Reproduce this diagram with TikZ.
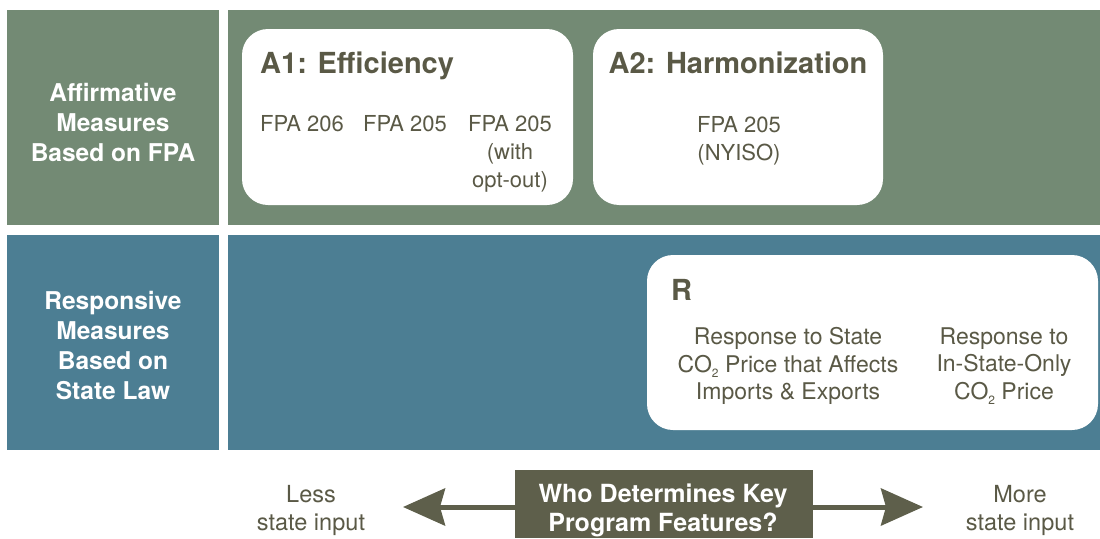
\documentclass[tikz,border=0pt]{standalone}
\usepackage{fontspec}
\setmainfont{TeX Gyre Heros}
\usetikzlibrary{arrows.meta}
\definecolor{pgreen}{HTML}{738A74}
\definecolor{pblue}{HTML}{4C7E93}
\definecolor{olive}{HTML}{5E5F4B}
\definecolor{txt}{HTML}{5A5946}
\tikzset{
  panel/.style={inner sep=0pt, outer sep=0pt},
  card/.style={fill=white, rounded corners=26pt},
  rowlabel/.style={text=white, align=center, font=\bfseries\fontsize{24.5}{30}\selectfont},
  title/.style={text=txt, font=\bfseries\fontsize{29}{34}\selectfont, inner sep=0pt},
  body/.style={text=txt, align=center, font=\fontsize{22}{28}\selectfont, inner sep=0pt},
  rbody/.style={text=txt, align=center, font=\fontsize{23}{27.5}\selectfont, inner sep=0pt},
  side/.style={text=txt, align=center, font=\fontsize{23.5}{28}\selectfont, inner sep=0pt},
  whobox/.style={fill=olive, inner sep=0pt},
  whotext/.style={text=white, align=center, font=\bfseries\fontsize{25}{29}\selectfont, inner sep=0pt},
  shaft/.style={draw=olive, line width=5pt, -{Stealth[length=42pt, width=37pt, inset=5pt]}}
}
\newcommand{\cotwo}{CO\raisebox{-0.45ex}{\fontsize{12}{12}\selectfont 2}}
\begin{document}
\begin{tikzpicture}[x=1pt,y=-1pt]
\useasboundingbox (0,0) rectangle (1100,538);
\clip (0,0) rectangle (1100,538);
% panels
\fill[pgreen] (7,10) rectangle (219,225);
\fill[pgreen] (228,10) rectangle (1100,225);
\fill[pblue] (7,235) rectangle (219,450);
\fill[pblue] (228,235) rectangle (1100,450);
% cards
\fill[card] (242,29) rectangle (573,205);
\fill[card] (593,29) rectangle (883,205);
\fill[card] (647,255) rectangle (1098,430);
% row labels
\node[rowlabel] (lab1) at (113,122) {Affirmative\\Measures\\Based on FPA};
\node[rowlabel] (lab2) at (113,346) {Responsive\\Measures\\Based on\\State Law};
% A1
\node[title, anchor=base west] (a1) at (260,73) {A1: Efficiency};
\node[body] (a1c1) at (302,124) {FPA 206};
\node[body] (a1c2) at (405,124) {FPA 205};
\node[body] (a1c3) at (510,154) {FPA 205\\(with\\opt-out)};
% A2
\node[title, anchor=base] (a2) at (738,73) {A2: Harmonization};
\node[body] (a2c1) at (739,141) {FPA 205\\(NYISO)};
% R
\node[title, anchor=base west] (r) at (671,300) {R};
\node[rbody] (rc1) at (788,366) {Response to State\\\cotwo{} Price that Affects\\Imports \& Exports};
\node[rbody] (rc2) at (1004,366) {Response to\\In-State-Only\\\cotwo{} Price};
% bottom
\node[whobox, minimum width=298pt, minimum height=68pt] (who) at (664,504) {};
\node[whotext] (whot) at (663,510) {Who Determines Key\\Program Features?};
\coordinate (lefttip) at (403,507);
\coordinate (righttip) at (923,507);
\draw[shaft] (who.west |- lefttip) -- (lefttip);
\draw[shaft] (who.east |- righttip) -- (righttip);
\node[side] (less) at (311,510) {Less\\state input};
\node[side] (more) at (1020,510) {More\\state input};
\end{tikzpicture}
\end{document}
